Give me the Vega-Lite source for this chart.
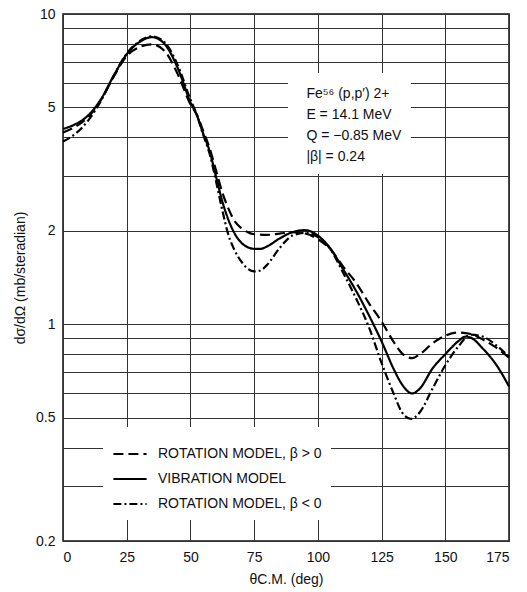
{
  "$schema": "https://vega.github.io/schema/vega-lite/v6.json",
  "width": 446,
  "height": 527,
  "autosize": {"type": "none"},
  "padding": {"left": 63, "top": 14, "right": 18, "bottom": 51},
  "background": "white",
  "config": {
    "font": "Liberation Sans",
    "view": {"stroke": "#111", "strokeWidth": 1.5},
    "axis": {"domain": false, "ticks": false, "grid": true, "gridColor": "#333", "gridWidth": 1, "gridOpacity": 1, "labelFont": "Liberation Sans", "labelFontSize": 14, "labelColor": "#111", "titleFont": "Liberation Sans", "titleFontSize": 14, "titleFontWeight": "normal", "titleColor": "#111"}
  },
  "data": {"values": [
    {"theta": 0, "xs": 4.26, "model": "VIBRATION MODEL"},
    {"theta": 5, "xs": 4.42, "model": "VIBRATION MODEL"},
    {"theta": 10, "xs": 4.72, "model": "VIBRATION MODEL"},
    {"theta": 15, "xs": 5.33, "model": "VIBRATION MODEL"},
    {"theta": 20, "xs": 6.35, "model": "VIBRATION MODEL"},
    {"theta": 25, "xs": 7.42, "model": "VIBRATION MODEL"},
    {"theta": 30, "xs": 8.12, "model": "VIBRATION MODEL"},
    {"theta": 35, "xs": 8.42, "model": "VIBRATION MODEL"},
    {"theta": 40, "xs": 7.98, "model": "VIBRATION MODEL"},
    {"theta": 45, "xs": 6.7, "model": "VIBRATION MODEL"},
    {"theta": 50, "xs": 5.2, "model": "VIBRATION MODEL"},
    {"theta": 52.5, "xs": 4.72, "model": "VIBRATION MODEL"},
    {"theta": 55, "xs": 4.12, "model": "VIBRATION MODEL"},
    {"theta": 57.5, "xs": 3.62, "model": "VIBRATION MODEL"},
    {"theta": 60, "xs": 3.0, "model": "VIBRATION MODEL"},
    {"theta": 62.5, "xs": 2.49, "model": "VIBRATION MODEL"},
    {"theta": 65, "xs": 2.16, "model": "VIBRATION MODEL"},
    {"theta": 67.5, "xs": 1.95, "model": "VIBRATION MODEL"},
    {"theta": 70, "xs": 1.83, "model": "VIBRATION MODEL"},
    {"theta": 72.5, "xs": 1.77, "model": "VIBRATION MODEL"},
    {"theta": 75, "xs": 1.75, "model": "VIBRATION MODEL"},
    {"theta": 77.5, "xs": 1.75, "model": "VIBRATION MODEL"},
    {"theta": 80, "xs": 1.78, "model": "VIBRATION MODEL"},
    {"theta": 85, "xs": 1.89, "model": "VIBRATION MODEL"},
    {"theta": 90, "xs": 1.98, "model": "VIBRATION MODEL"},
    {"theta": 95, "xs": 2.01, "model": "VIBRATION MODEL"},
    {"theta": 100, "xs": 1.93, "model": "VIBRATION MODEL"},
    {"theta": 105, "xs": 1.75, "model": "VIBRATION MODEL"},
    {"theta": 110, "xs": 1.5, "model": "VIBRATION MODEL"},
    {"theta": 115, "xs": 1.28, "model": "VIBRATION MODEL"},
    {"theta": 120, "xs": 1.07, "model": "VIBRATION MODEL"},
    {"theta": 125, "xs": 0.88, "model": "VIBRATION MODEL"},
    {"theta": 130, "xs": 0.71, "model": "VIBRATION MODEL"},
    {"theta": 133, "xs": 0.64, "model": "VIBRATION MODEL"},
    {"theta": 137, "xs": 0.598, "model": "VIBRATION MODEL"},
    {"theta": 140, "xs": 0.62, "model": "VIBRATION MODEL"},
    {"theta": 145, "xs": 0.72, "model": "VIBRATION MODEL"},
    {"theta": 150, "xs": 0.8, "model": "VIBRATION MODEL"},
    {"theta": 155, "xs": 0.88, "model": "VIBRATION MODEL"},
    {"theta": 158, "xs": 0.912, "model": "VIBRATION MODEL"},
    {"theta": 160, "xs": 0.905, "model": "VIBRATION MODEL"},
    {"theta": 165, "xs": 0.83, "model": "VIBRATION MODEL"},
    {"theta": 170, "xs": 0.74, "model": "VIBRATION MODEL"},
    {"theta": 175, "xs": 0.63, "model": "VIBRATION MODEL"},

    {"theta": 0, "xs": 4.15, "model": "ROTATION MODEL, β > 0"},
    {"theta": 5, "xs": 4.34, "model": "ROTATION MODEL, β > 0"},
    {"theta": 10, "xs": 4.66, "model": "ROTATION MODEL, β > 0"},
    {"theta": 15, "xs": 5.3, "model": "ROTATION MODEL, β > 0"},
    {"theta": 20, "xs": 6.3, "model": "ROTATION MODEL, β > 0"},
    {"theta": 25, "xs": 7.32, "model": "ROTATION MODEL, β > 0"},
    {"theta": 30, "xs": 7.82, "model": "ROTATION MODEL, β > 0"},
    {"theta": 35, "xs": 7.98, "model": "ROTATION MODEL, β > 0"},
    {"theta": 40, "xs": 7.58, "model": "ROTATION MODEL, β > 0"},
    {"theta": 45, "xs": 6.4, "model": "ROTATION MODEL, β > 0"},
    {"theta": 50, "xs": 5.12, "model": "ROTATION MODEL, β > 0"},
    {"theta": 52.5, "xs": 4.74, "model": "ROTATION MODEL, β > 0"},
    {"theta": 55, "xs": 4.2, "model": "ROTATION MODEL, β > 0"},
    {"theta": 57.5, "xs": 3.7, "model": "ROTATION MODEL, β > 0"},
    {"theta": 60, "xs": 3.14, "model": "ROTATION MODEL, β > 0"},
    {"theta": 62.5, "xs": 2.66, "model": "ROTATION MODEL, β > 0"},
    {"theta": 65, "xs": 2.35, "model": "ROTATION MODEL, β > 0"},
    {"theta": 67.5, "xs": 2.14, "model": "ROTATION MODEL, β > 0"},
    {"theta": 70, "xs": 2.04, "model": "ROTATION MODEL, β > 0"},
    {"theta": 72.5, "xs": 1.98, "model": "ROTATION MODEL, β > 0"},
    {"theta": 75, "xs": 1.95, "model": "ROTATION MODEL, β > 0"},
    {"theta": 80, "xs": 1.94, "model": "ROTATION MODEL, β > 0"},
    {"theta": 85, "xs": 1.96, "model": "ROTATION MODEL, β > 0"},
    {"theta": 90, "xs": 1.98, "model": "ROTATION MODEL, β > 0"},
    {"theta": 95, "xs": 1.96, "model": "ROTATION MODEL, β > 0"},
    {"theta": 100, "xs": 1.88, "model": "ROTATION MODEL, β > 0"},
    {"theta": 105, "xs": 1.74, "model": "ROTATION MODEL, β > 0"},
    {"theta": 110, "xs": 1.53, "model": "ROTATION MODEL, β > 0"},
    {"theta": 115, "xs": 1.36, "model": "ROTATION MODEL, β > 0"},
    {"theta": 120, "xs": 1.17, "model": "ROTATION MODEL, β > 0"},
    {"theta": 125, "xs": 1.02, "model": "ROTATION MODEL, β > 0"},
    {"theta": 130, "xs": 0.87, "model": "ROTATION MODEL, β > 0"},
    {"theta": 133, "xs": 0.805, "model": "ROTATION MODEL, β > 0"},
    {"theta": 137, "xs": 0.777, "model": "ROTATION MODEL, β > 0"},
    {"theta": 140, "xs": 0.8, "model": "ROTATION MODEL, β > 0"},
    {"theta": 145, "xs": 0.867, "model": "ROTATION MODEL, β > 0"},
    {"theta": 150, "xs": 0.918, "model": "ROTATION MODEL, β > 0"},
    {"theta": 155, "xs": 0.94, "model": "ROTATION MODEL, β > 0"},
    {"theta": 160, "xs": 0.93, "model": "ROTATION MODEL, β > 0"},
    {"theta": 165, "xs": 0.89, "model": "ROTATION MODEL, β > 0"},
    {"theta": 170, "xs": 0.84, "model": "ROTATION MODEL, β > 0"},
    {"theta": 175, "xs": 0.78, "model": "ROTATION MODEL, β > 0"},

    {"theta": 0, "xs": 3.88, "model": "ROTATION MODEL, β < 0"},
    {"theta": 5, "xs": 4.12, "model": "ROTATION MODEL, β < 0"},
    {"theta": 10, "xs": 4.55, "model": "ROTATION MODEL, β < 0"},
    {"theta": 15, "xs": 5.27, "model": "ROTATION MODEL, β < 0"},
    {"theta": 20, "xs": 6.35, "model": "ROTATION MODEL, β < 0"},
    {"theta": 25, "xs": 7.45, "model": "ROTATION MODEL, β < 0"},
    {"theta": 30, "xs": 8.17, "model": "ROTATION MODEL, β < 0"},
    {"theta": 35, "xs": 8.47, "model": "ROTATION MODEL, β < 0"},
    {"theta": 40, "xs": 8.08, "model": "ROTATION MODEL, β < 0"},
    {"theta": 45, "xs": 6.85, "model": "ROTATION MODEL, β < 0"},
    {"theta": 50, "xs": 5.3, "model": "ROTATION MODEL, β < 0"},
    {"theta": 52.5, "xs": 4.74, "model": "ROTATION MODEL, β < 0"},
    {"theta": 55, "xs": 4.08, "model": "ROTATION MODEL, β < 0"},
    {"theta": 57.5, "xs": 3.55, "model": "ROTATION MODEL, β < 0"},
    {"theta": 60, "xs": 2.9, "model": "ROTATION MODEL, β < 0"},
    {"theta": 62.5, "xs": 2.33, "model": "ROTATION MODEL, β < 0"},
    {"theta": 65, "xs": 1.93, "model": "ROTATION MODEL, β < 0"},
    {"theta": 67.5, "xs": 1.72, "model": "ROTATION MODEL, β < 0"},
    {"theta": 70, "xs": 1.59, "model": "ROTATION MODEL, β < 0"},
    {"theta": 72.5, "xs": 1.51, "model": "ROTATION MODEL, β < 0"},
    {"theta": 75, "xs": 1.48, "model": "ROTATION MODEL, β < 0"},
    {"theta": 77.5, "xs": 1.49, "model": "ROTATION MODEL, β < 0"},
    {"theta": 80, "xs": 1.55, "model": "ROTATION MODEL, β < 0"},
    {"theta": 85, "xs": 1.76, "model": "ROTATION MODEL, β < 0"},
    {"theta": 90, "xs": 1.93, "model": "ROTATION MODEL, β < 0"},
    {"theta": 95, "xs": 1.97, "model": "ROTATION MODEL, β < 0"},
    {"theta": 100, "xs": 1.91, "model": "ROTATION MODEL, β < 0"},
    {"theta": 105, "xs": 1.74, "model": "ROTATION MODEL, β < 0"},
    {"theta": 110, "xs": 1.46, "model": "ROTATION MODEL, β < 0"},
    {"theta": 115, "xs": 1.21, "model": "ROTATION MODEL, β < 0"},
    {"theta": 120, "xs": 0.98, "model": "ROTATION MODEL, β < 0"},
    {"theta": 125, "xs": 0.75, "model": "ROTATION MODEL, β < 0"},
    {"theta": 130, "xs": 0.59, "model": "ROTATION MODEL, β < 0"},
    {"theta": 133, "xs": 0.52, "model": "ROTATION MODEL, β < 0"},
    {"theta": 136.5, "xs": 0.495, "model": "ROTATION MODEL, β < 0"},
    {"theta": 140, "xs": 0.52, "model": "ROTATION MODEL, β < 0"},
    {"theta": 145, "xs": 0.62, "model": "ROTATION MODEL, β < 0"},
    {"theta": 150, "xs": 0.737, "model": "ROTATION MODEL, β < 0"},
    {"theta": 155, "xs": 0.845, "model": "ROTATION MODEL, β < 0"},
    {"theta": 160, "xs": 0.925, "model": "ROTATION MODEL, β < 0"},
    {"theta": 165, "xs": 0.91, "model": "ROTATION MODEL, β < 0"},
    {"theta": 170, "xs": 0.855, "model": "ROTATION MODEL, β < 0"},
    {"theta": 175, "xs": 0.785, "model": "ROTATION MODEL, β < 0"}
  ]},
  "layer": [
    {
      "mark": {"type": "line", "color": "black", "strokeWidth": 2.2, "interpolate": "monotone"},
      "encoding": {
        "x": {"field": "theta", "type": "quantitative", "scale": {"domain": [0, 175], "nice": false, "zero": false},
              "axis": {"values": [0, 25, 50, 75, 100, 125, 150, 175], "title": "θC.M. (deg)", "labelPadding": 9, "titlePadding": 8}},
        "y": {"field": "xs", "type": "quantitative", "scale": {"type": "log", "domain": [0.2, 10], "nice": false},
              "axis": {"values": [0.2, 0.3, 0.4, 0.5, 0.6, 0.7, 0.8, 0.9, 1, 2, 3, 4, 5, 6, 7, 8, 9, 10],
                       "format": "~g",
                       "labelExpr": "indexof([0.2, 0.5, 1, 2, 5, 10], datum.value) >= 0 ? datum.label : ''",
                       "title": "dσ/dΩ (mb/steradian)", "labelPadding": 8, "titlePadding": 8}},
        "strokeDash": {"field": "model", "type": "nominal",
          "scale": {"domain": ["ROTATION MODEL, β > 0", "VIBRATION MODEL", "ROTATION MODEL, β < 0"],
                    "range": [[10, 5], [1, 0], [8, 3, 2, 3]]},
          "legend": {"orient": "none", "legendX": 40, "legendY": 413, "title": null, "fillColor": "white",
                     "padding": 9, "symbolType": "stroke", "symbolSize": 1100, "symbolStrokeWidth": 2.2,
                     "symbolStrokeColor": "black", "labelFontSize": 14, "labelFont": "Liberation Sans",
                     "labelColor": "#111", "rowPadding": -6, "labelOffset": 10, "labelLimit": 320}}
      }
    },
    {
      "data": {"values": [{}]},
      "mark": {"type": "rect", "color": "white"},
      "encoding": {
        "x": {"datum": 88.3, "type": "quantitative"},
        "x2": {"datum": 136.5},
        "y": {"datum": 6.45, "type": "quantitative"},
        "y2": {"datum": 3.05}
      }
    },
    {
      "data": {"values": [{}]},
      "mark": {"type": "text", "align": "left", "baseline": "top", "fontSize": 14, "lineHeight": 21, "font": "Liberation Sans", "color": "#111"},
      "encoding": {
        "x": {"datum": 95.5, "type": "quantitative"},
        "y": {"datum": 5.8, "type": "quantitative"},
        "text": {"value": ["Fe⁵⁶ (p,p′) 2+", "E = 14.1 MeV", "Q = −0.85 MeV", "|β| = 0.24"]}
      }
    }
  ]
}
